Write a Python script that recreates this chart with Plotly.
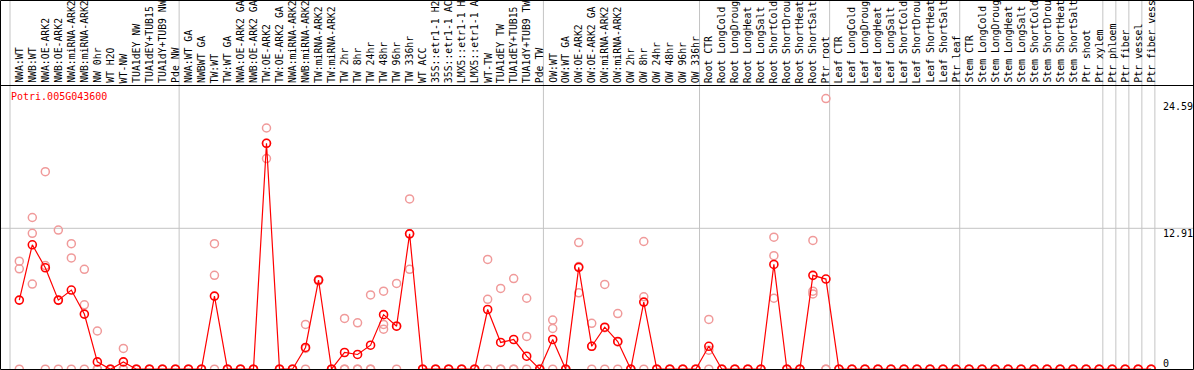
import plotly.graph_objects as go

gene_label = "Potri.005G043600"

categories = [
    "NWA:WT", "NWB:WT", "NWA:OE-ARK2", "NWB:OE-ARK2", "NWA:miRNA-ARK2", "NWB:miRNA-ARK2",
    "NW 0hr", "WT H2O", "WT-NW", "TUA1dEY NW", "TUA1dEY+TUB15 NW", "TUA1dY+TUB9 NW", "Pde NW",
    "NWA:WT GA", "NWBWT GA", "TW:WT", "TW:WT GA", "NWA:OE-ARK2 GA", "NWB:OE-ARK2 GA",
    "TW:OE-ARK2", "TW:OE-ARK2 GA", "NWA:miRNA-ARK2", "NWB:miRNA-ARK2", "TW:miRNA-ARK2",
    "TW:miRNA-ARK2", "TW 2hr", "TW 8hr", "TW 24hr", "TW 48hr", "TW 96hr", "TW 336hr", "WT ACC",
    "35S::etr1-1 H2O", "35S::etr1-1 ACC", "LMX5::etr1-1 H2O", "LMX5::etr1-1 ACC", "WT-TW",
    "TUA1dEY TW", "TUA1dEY+TUB15 TW", "TUA1dY+TUB9 TW", "Pde TW",
    "OW:WT", "OW:WT GA", "OW:OE-ARK2", "OW:OE-ARK2 GA", "OW:miRNA-ARK2", "OW:miRNA-ARK2",
    "OW 2hr", "OW 8hr", "OW 24hr", "OW 48hr", "OW 96hr", "OW 336hr",
    "Root CTR", "Root LongCold", "Root LongDrought", "Root LongHeat", "Root LongSalt",
    "Root ShortCold", "Root ShortDrought", "Root ShortHeat", "Root ShortSalt", "Ptr root",
    "Leaf CTR", "Leaf LongCold", "Leaf LongDrought", "Leaf LongHeat", "Leaf LongSalt",
    "Leaf ShortCold", "Leaf ShortDrought", "Leaf ShortHeat", "Leaf ShortSalt", "Ptr leaf",
    "Stem CTR", "Stem LongCold", "Stem LongDrought", "Stem LongHeat", "Stem LongSalt",
    "Stem ShortCold", "Stem ShortDrought", "Stem ShortHeat", "Stem ShortSalt", "Ptr shoot",
    "Ptr xylem", "Ptr phloem", "Ptr fiber", "Ptr vessel", "Ptr fiber vessel",
]

mean_values = [
    6.33, 11.4, 9.29, 6.33, 7.25, 5.05, 0.67, 0, 0.67, 0, 0, 0, 0,
    0, 0, 6.7, 0, 0, 0, 20.7, 0, 0, 1.99, 8.17, 0, 1.53, 1.35, 2.2, 5.0, 3.94, 12.4, 0,
    0, 0, 0, 0, 5.47, 2.45, 2.72, 1.19, 0,
    2.72, 0, 9.33, 2.1, 3.85, 2.54, 0, 6.15, 0, 0, 0, 0,
    2.1, 0, 0, 0, 0, 9.6, 0, 0, 8.6, 8.26,
    0, 0, 0, 0, 0, 0, 0, 0, 0, 0,
    0, 0, 0, 0, 0, 0, 0, 0, 0, 0,
    0, 0, 0, 0, 0,
]

rep1 = [
    9.9, 13.9, 18.1, 12.75, 11.5, 9.15, 3.5, 0, 1.9, 0, 0, 0, 0,
    0, 0, 11.5, 0, 0, 0, 22.1, 0, 0, 4.1, 8.2, 0, 4.65, 4.25, 6.8, 7.15, 7.86, 15.6, 0,
    0, 0, 0, 0, 10.06, 7.4, 8.3, 6.5, 0,
    4.5, 0, 11.6, 4.2, 7.77, 5.1, 0, 11.7, 0, 0, 0, 0,
    4.56, 0, 0, 0, 0, 12.1, 0, 0, 11.8, 24.8,
    0, 0, 0, 0, 0, 0, 0, 0, 0, 0,
    0, 0, 0, 0, 0, 0, 0, 0, 0, 0,
    0, 0, 0, 0, 0,
]
rep2 = [
    9.2, 12.45, 9.5, 6.3, 10.2, 5.9, 0, 0, 0, 0, 0, 0, 0,
    0, 0, 8.6, 0, 0, 0, 20.7, 0, 0, 1.9, 8.2, 0, 0, 0, 0, 4.1, 3.96, 12.4, 0,
    0, 0, 0, 0, 6.4, 0, 0, 3.0, 0,
    3.73, 0, 9.4, 2.1, 3.8, 2.5, 0, 6.63, 0, 0, 0, 0,
    1.74, 0, 0, 0, 0, 10.4, 0, 0, 7.15, 0,
    0, 0, 0, 0, 0, 0, 0, 0, 0, 0,
    0, 0, 0, 0, 0, 0, 0, 0, 0, 0,
    0, 0, 0, 0, 0,
]
rep3 = [
    0, 7.8, 0, 0, 0, 0, 0, 0, 0, 0, 0, 0, 0,
    0, 0, 0, 0, 0, 0, 19.3, 0, 0, 0, 8.1, 0, 0, 0, 0, 3.67, 0, 9.15, 0,
    0, 0, 0, 0, 0, 0, 0, 0, 0,
    0, 0, 7.0, 0, 0, 0, 0, 0, 0, 0, 0, 0,
    0, 0, 0, 0, 0, 6.5, 0, 0, 6.9, 0,
    0, 0, 0, 0, 0, 0, 0, 0, 0, 0,
    0, 0, 0, 0, 0, 0, 0, 0, 0, 0,
    0, 0, 0, 0, 0,
]

group_boundaries = [0, 13, 41, 53, 63, 73, 84, 85, 86, 87, 88]
axis_label_values = [24.59, 12.91, 0]
axis_label_texts = ["24.59", "12.91", "0"]
gridline_value = 12.91
header_chars = 14  # the header row only has room for 14 characters

# ---- geometry ----
W, H = 1194, 370
CELL = 13.01
X0 = 10.0
HEADER = 85
ZERO_PX = 369.2
PX_PER_UNIT = 10.914
POINT_OFFSET = 0.715

def px_to_x(px):
    return (px - X0) / CELL

def py_to_paper(py):
    return (H - py) / H

n = len(categories)
xs = [i + POINT_OFFSET for i in range(n)]

fig = go.Figure()

rx, ry = [], []
for reps in (rep1, rep2, rep3):
    for i, v in enumerate(reps):
        rx.append(xs[i])
        ry.append(v)

fig.add_trace(go.Scatter(
    x=rx, y=ry, mode="markers",
    marker=dict(symbol="circle-open", size=8, color="#f09a9a", line=dict(width=1.5)),
    hoverinfo="skip", showlegend=False,
))
fig.add_trace(go.Scatter(
    x=xs, y=mean_values, mode="lines+markers",
    line=dict(color="#ff0000", width=1.2),
    marker=dict(symbol="circle-open", size=8, color="#ff0000", line=dict(width=1.6)),
    text=categories, showlegend=False,
))

shapes = []
for b in group_boundaries:
    shapes.append(dict(type="line", xref="x", yref="paper", x0=b, x1=b, y0=0, y1=1,
                       line=dict(color="#c4c4c4", width=1), layer="below"))
shapes.append(dict(type="line", xref="paper", yref="y", x0=0, x1=1,
                   y0=gridline_value, y1=gridline_value,
                   line=dict(color="#c4c4c4", width=1), layer="below"))
# header separator
shapes.append(dict(type="line", xref="paper", yref="paper", x0=0, x1=1,
                   y0=py_to_paper(85.5), y1=py_to_paper(85.5),
                   line=dict(color="black", width=1)))
# outer border
shapes.append(dict(type="rect", xref="paper", yref="paper",
                   x0=0.5 / W, x1=1193.5 / W, y0=py_to_paper(369.5), y1=py_to_paper(0.5),
                   line=dict(color="black", width=1)))

annotations = []
mono = "DejaVu Sans Mono"
for i, c in enumerate(categories):
    annotations.append(dict(
        x=xs[i], xref="x", y=py_to_paper(84), yref="paper",
        text=c[:header_chars], showarrow=False, textangle=-90,
        xanchor="center", yanchor="bottom", borderpad=0,
        font=dict(family=mono, size=9.8, color="black"),
    ))
annotations.append(dict(
    x=9 / W, xref="paper", y=py_to_paper(89), yref="paper",
    text=gene_label, showarrow=False, xanchor="left", yanchor="top",
    font=dict(family=mono, size=10, color="#ff0000"),
))
for v, t in zip(axis_label_values, axis_label_texts):
    annotations.append(dict(
        x=1161 / W, xref="paper", y=v, yref="y",
        text=t, showarrow=False, xanchor="left",
        yanchor="top" if v > 0 else "bottom",
        yshift=2 if v > 0 else -2,
        font=dict(family=mono, size=10, color="black"),
    ))

fig.update_layout(
    width=W, height=H,
    margin=dict(l=0, r=0, t=0, b=0),
    paper_bgcolor="white", plot_bgcolor="white",
    showlegend=False,
    xaxis=dict(range=[px_to_x(0), px_to_x(W)], visible=False, fixedrange=True),
    yaxis=dict(domain=[0, py_to_paper(HEADER)],
               range=[-(H - ZERO_PX) / PX_PER_UNIT, (ZERO_PX - HEADER) / PX_PER_UNIT],
               visible=False, fixedrange=True),
    shapes=shapes,
    annotations=annotations,
)

fig.write_html(
    "out.html",
    config={"displayModeBar": False},
    post_script="document.body.style.margin='0';document.body.style.overflow='hidden';",
)
